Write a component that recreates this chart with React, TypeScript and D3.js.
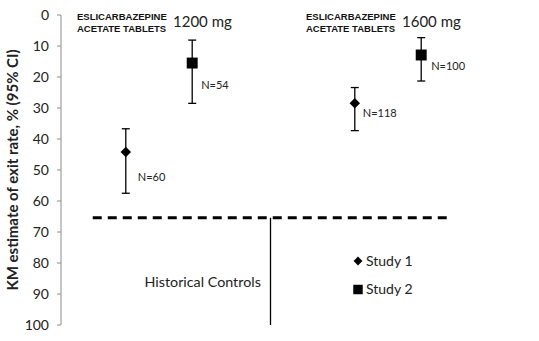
import React from "react";
import * as d3 from "d3";

const groups = ["1200 mg", "Historical Controls", "1600 mg"];
const studies = ["Study 1", "Study 2"];
const pointGroup = ["1200 mg", "1200 mg", "1600 mg", "1600 mg"];
const pointStudy = ["Study 1", "Study 2", "Study 1", "Study 2"];
const estimates = [44.2, 15.5, 28.5, 12.9];
const lowerCI = [36.7, 8.1, 23.4, 7.3];
const upperCI = [57.5, 28.5, 37.3, 21.3];
const nLabels = ["N=60", "N=54", "N=118", "N=100"];
const historicalRate = 65.4;
const yTicks = [0, 10, 20, 30, 40, 50, 60, 70, 80, 90, 100];

const W = 539;
const H = 341;
const FONT = "Lato, 'Open Sans', sans-serif";
// label offsets (pixels) for the N= annotations, layout only
const labelDx = [12, 9, 8, 10];
const labelDy = [25, 22, 10, 11];

export default function App() {
  const y = d3.scaleLinear().domain([0, 100]).range([15, 325]);
  const x = d3.scaleBand().domain(groups).range([101.75, 445.25]);
  const off = d3.scaleOrdinal<string, number>().domain(studies).range([-0.29, 0.29]);
  const px = (g: string, s: string) => x(g)! + x.bandwidth() / 2 + off(s) * x.bandwidth();
  const sym = (s: string, size: number) =>
    d3.symbol().type(s === "Study 1" ? d3.symbolDiamond2 : d3.symbolSquare).size(size)()!;

  const hcX = x("Historical Controls")! + x.bandwidth() / 2 - 3;
  const headerGroups = ["1200 mg", "1600 mg"];

  return (
    <svg width={W} height={H} style={{ position: "absolute", left: 0, top: 0, background: "#fff" }}>
      {/* y axis */}
      <line x1={61} x2={61} y1={y(0)} y2={y(100)} stroke="#8c8c8c" strokeWidth={1} />
      {yTicks.map((t) => (
        <g key={t}>
          <line x1={57} x2={61} y1={y(t)} y2={y(t)} stroke="#8c8c8c" />
          <text x={49} y={y(t)} dy="0.35em" textAnchor="end" fontFamily={FONT} fontSize={14} fill="#222">
            {t}
          </text>
        </g>
      ))}
      <text
        transform={`translate(13,${(y(0) + y(100)) / 2}) rotate(-90)`}
        textAnchor="middle"
        dy="0.35em"
        fontFamily={FONT}
        fontWeight="bold"
        fontSize={15}
        fill="#222"
      >
        KM estimate of exit rate, % (95% CI)
      </text>

      {/* headers */}
      {headerGroups.map((g) => {
        const cx = x(g)! + x.bandwidth() / 2;
        return (
          <g key={g}>
            <text x={cx - 82} y={20} fontFamily="'Liberation Sans', Arial, sans-serif" fontWeight="bold" fontSize={9.5} fill="#111">
              ESLICARBAZEPINE
            </text>
            <text x={cx - 82} y={32} fontFamily="'Liberation Sans', Arial, sans-serif" fontWeight="bold" fontSize={9.5} fill="#111">
              ACETATE TABLETS
            </text>
            <text x={cx + 14} y={27} fontFamily={FONT} fontSize={15} fill="#222">
              {g}
            </text>
          </g>
        );
      })}

      {/* historical controls */}
      <line x1={x.range()[0] - 9} x2={x.range()[1] + 2} y1={y(historicalRate)} y2={y(historicalRate)}
        stroke="#000" strokeWidth={3} strokeDasharray="9,6" />
      <line x1={hcX} x2={hcX} y1={y(historicalRate)} y2={y(100)} stroke="#000" strokeWidth={1.3} />
      <text x={hcX - 126} y={y(86)} dy="0.35em" fontFamily={FONT} fontSize={14.3} fill="#222">
        Historical Controls
      </text>

      {/* points */}
      {estimates.map((v, i) => {
        const cx = px(pointGroup[i], pointStudy[i]);
        const isSq = pointStudy[i] === "Study 2";
        return (
          <g key={i}>
            <line x1={cx} x2={cx} y1={y(lowerCI[i])} y2={y(upperCI[i])} stroke="#000" strokeWidth={1.3} />
            <line x1={cx - 4} x2={cx + 4} y1={y(lowerCI[i])} y2={y(lowerCI[i])} stroke="#000" strokeWidth={1.3} />
            <line x1={cx - 4} x2={cx + 4} y1={y(upperCI[i])} y2={y(upperCI[i])} stroke="#000" strokeWidth={1.3} />
            <path d={sym(pointStudy[i], isSq ? 120 : 70)} transform={`translate(${cx},${y(v)})`} fill="#000" />
            <text x={cx + labelDx[i]} y={y(v) + labelDy[i]} dy="0.35em" fontFamily={FONT} fontSize={11} fill="#222">
              {nLabels[i]}
            </text>
          </g>
        );
      })}

      {/* legend */}
      {studies.map((s, i) => (
        <g key={s} transform={`translate(358,${261 + i * 28.5})`}>
          <path d={sym(s, s === "Study 2" ? 90 : 50)} fill="#000" />
          <text x={8} dy="0.35em" fontFamily={FONT} fontSize={14} fill="#222">
            {s}
          </text>
        </g>
      ))}
    </svg>
  );
}
